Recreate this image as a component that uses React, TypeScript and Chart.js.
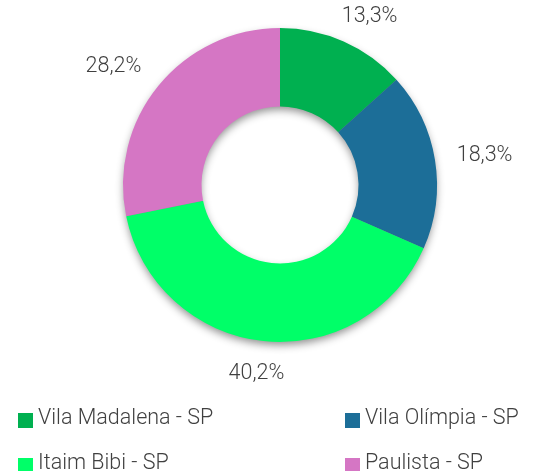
import React, { useEffect, useRef } from "react";
import { Chart, registerables } from "chart.js";

Chart.register(...registerables);

const categories = ["Vila Madalena - SP", "Vila Olímpia - SP", "Itaim Bibi - SP", "Paulista - SP"];
const values = [13.3, 18.3, 40.2, 28.2];
const valueLabels = ["13,3%", "18,3%", "40,2%", "28,2%"];
const colors = ["#00B050", "#1C6E98", "#00FF68", "#D576C4"];

const FONT = "Roboto, 'Noto Sans', sans-serif";
const TEXT_COLOR = "#404040";

const shadowPlugin = {
  id: "ringShadow",
  beforeDatasetsDraw(chart: any) {
    const meta = chart.getDatasetMeta(0);
    const arc = meta.data[0];
    if (!arc) return;
    const { x, y, outerRadius, innerRadius } = arc.getProps(["x", "y", "outerRadius", "innerRadius"], true);
    const ctx = chart.ctx;
    ctx.save();
    ctx.shadowColor = "rgba(0,0,0,0.45)";
    ctx.shadowBlur = 9;
    ctx.shadowOffsetX = 0;
    ctx.shadowOffsetY = 4;
    ctx.fillStyle = "#888";
    ctx.beginPath();
    ctx.arc(x, y, outerRadius - 1, 0, Math.PI * 2, false);
    ctx.arc(x, y, innerRadius + 1, 0, Math.PI * 2, true);
    ctx.closePath();
    ctx.fill();
    ctx.restore();
  },
};

const clamp = (v: number) => Math.max(-1, Math.min(1, v));

const labelPlugin = {
  id: "outsideLabels",
  afterDatasetsDraw(chart: any) {
    const meta = chart.getDatasetMeta(0);
    const ctx = chart.ctx;
    ctx.save();
    ctx.font = `300 21.5px ${FONT}`;
    ctx.fillStyle = TEXT_COLOR;
    ctx.textAlign = "center";
    ctx.textBaseline = "middle";
    meta.data.forEach((el: any, i: number) => {
      const { x, y, startAngle, endAngle, outerRadius } = el.getProps(
        ["x", "y", "startAngle", "endAngle", "outerRadius"],
        true
      );
      const mid = (startAngle + endAngle) / 2;
      const dx = Math.cos(mid);
      const dy = Math.sin(mid);
      const text = valueLabels[i];
      const w = ctx.measureText(text).width;
      const h = 16;
      const d = outerRadius + 22;
      const cx = x + dx * d + clamp(1.5 * dx) * (w / 2);
      const cy = y + dy * d + clamp(3 * dy) * (h / 2);
      ctx.fillText(text, cx, cy + 3);
    });
    ctx.restore();
  },
};

export default function App() {
  const canvasRef = useRef<HTMLCanvasElement>(null);

  useEffect(() => {
    document.body.style.margin = "0";
    const canvas = canvasRef.current;
    if (!canvas) return;
    const chart = new Chart(canvas, {
      type: "doughnut",
      data: {
        labels: categories,
        datasets: [
          {
            data: values,
            backgroundColor: colors,
            borderWidth: 0,
            hoverOffset: 0,
          },
        ],
      },
      options: {
        animation: false,
        responsive: false,
        maintainAspectRatio: false,
        cutout: "50%",
        layout: { padding: { top: 28, bottom: 129, left: 20, right: 0 } },
        plugins: {
          legend: { display: false },
          tooltip: { enabled: false },
        },
      },
      plugins: [shadowPlugin, labelPlugin],
    });
    return () => chart.destroy();
  }, []);

  const colX = [18, 345];
  const rowY = [413, 458];

  return (
    <div style={{ position: "relative", width: 540, height: 471, overflow: "hidden", background: "#fff" }}>
      <canvas ref={canvasRef} width={540} height={471} style={{ position: "absolute", left: 0, top: 0 }} />
      {categories.map((c, i) => {
        const left = colX[i % 2];
        const top = rowY[Math.floor(i / 2)];
        return (
          <div key={c}>
            <div
              style={{
                position: "absolute",
                left,
                top,
                width: 15,
                height: 15,
                background: colors[i],
              }}
            />
            <div
              style={{
                position: "absolute",
                left: left + 20,
                top: top - 8,
                fontFamily: FONT,
                fontWeight: 300,
                fontSize: 21.5,
                lineHeight: "24px",
                color: TEXT_COLOR,
                whiteSpace: "nowrap",
              }}
            >
              {c}
            </div>
          </div>
        );
      })}
    </div>
  );
}
